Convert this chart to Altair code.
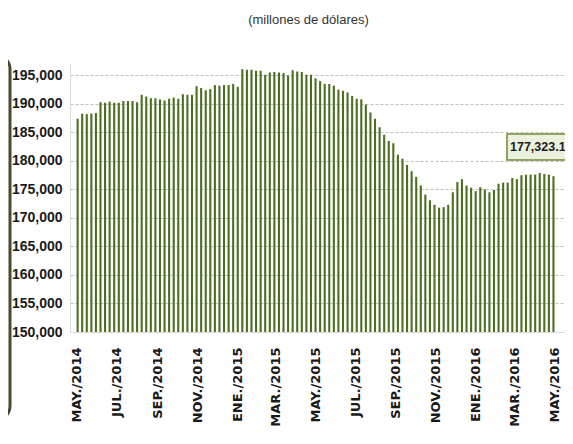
import altair as alt
import pandas as pd

# ---- data ----
week_dates = pd.date_range("2014-05-02", periods=105, freq="7D").strftime("%Y-%m-%d").tolist()
reserves = [
    187400, 188300, 188200, 188300, 188400, 190300, 190200, 190400, 190200, 190200,
    190500, 190500, 190500, 190300, 191600, 191300, 191000, 191000, 190800, 190600,
    190900, 191100, 190900, 191700, 191600, 191600, 193100, 192800, 192400, 192600,
    193300, 193200, 193300, 193300, 193500, 193000, 196100, 196000, 196000, 195800,
    195800, 195100, 195500, 195600, 195500, 195400, 195000, 195900, 195700, 195600,
    195100, 195100, 194500, 194000, 193500, 193500, 193200, 192500, 192300, 192000,
    191400, 190900, 190800, 189900, 188500, 187400, 185900, 184600, 183500, 183100,
    181100, 180400, 179300, 178200, 177200, 175700, 174100, 173100, 172300, 171800,
    171900, 172300, 174500, 176300, 176800, 175700, 175300, 174700, 175400, 175000,
    174500, 174900, 176000, 176200, 176200, 177000, 176800, 177500, 177600, 177600,
    177600, 177900, 177700, 177600, 177323.1,
]
tick_dates = ["2014-05-01", "2014-07-01", "2014-09-01", "2014-11-01", "2015-01-01",
              "2015-03-01", "2015-05-01", "2015-07-01", "2015-09-01", "2015-11-01",
              "2016-01-01", "2016-03-01", "2016-05-01"]
tick_labels = ["MAY./2014", "JUL./2014", "SEP./2014", "NOV./2014", "ENE./2015",
               "MAR./2015", "MAY./2015", "JUL./2015", "SEP./2015", "NOV./2015",
               "ENE./2016", "MAR./2016", "MAY./2016"]
y_ticks = [150000, 155000, 160000, 165000, 170000, 175000, 180000, 185000, 190000, 195000]
x_domain = ["2014-04-28", "2016-05-09"]
title_text = "(millones de dólares)"

def ms(d):
    return int(pd.Timestamp(d, tz="UTC").value // 10**6)

tick_ms = [ms(d) for d in tick_dates]
tick_keys = [d[:7] for d in tick_dates]
label_expr = ("[" + ",".join("'%s'" % t for t in tick_labels) + "][indexof([" +
              ",".join("'%s'" % k for k in tick_keys) +
              "], utcFormat(datum.value, '%Y-%m'))]")

df = pd.DataFrame({"fecha": week_dates, "valor": reserves})
last_df = pd.DataFrame({"valor": [reserves[-1]]})
one = pd.DataFrame({"k": [0]})

bars = alt.Chart(df).mark_bar(size=2.1, color="#4e6d20", clip=True).encode(
    x=alt.X("fecha:T",
            scale=alt.Scale(type="utc", domain=[ms(x_domain[0]), ms(x_domain[1])]),
            axis=alt.Axis(values=tick_ms, labelExpr=label_expr, labelAngle=270,
                          labelFont="DejaVu Sans", labelFontWeight="bold", labelFontSize=13,
                          labelColor="#1a1a1a", ticks=False, labelPadding=15, grid=False,
                          domainColor="#d9d9d9", title=None, labelFlush=False,
                          labelOverlap=False, labelBound=False)),
    y=alt.Y("valor:Q",
            scale=alt.Scale(domain=[150000, 197000], nice=False, zero=False),
            axis=alt.Axis(values=y_ticks, format=",d", labelFont="Liberation Sans",
                          labelFontWeight="bold", labelFontSize=14, labelColor="#1a1a1a",
                          ticks=False, labelPadding=8, domainColor="#d9d9d9",
                          gridColor="#bfbfbf", gridDash=[3, 2], title=None)),
    y2=alt.datum(150000),
)

box = alt.Chart(one).mark_rect(fill="#ebf1de", stroke="#6f8a36", strokeWidth=1.5).encode(
    x=alt.value(437), x2=alt.value(520), y=alt.value(70), y2=alt.value(96)
)
label = alt.Chart(last_df).mark_text(
    align="left", baseline="middle", font="Liberation Sans", fontWeight="bold",
    fontSize=12.5, color="#1a1a1a"
).encode(
    x=alt.value(440), y=alt.value(83), text=alt.Text("valor:Q", format=",.1f")
)
frame = alt.Chart(one).mark_rect(
    fillOpacity=0, stroke="#4a4a30", strokeWidth=3, cornerRadius=14
).encode(
    x=alt.value(-300), x2=alt.value(-60), y=alt.value(-9), y2=alt.value(356)
)

chart = alt.layer(frame, bars, box, label).properties(
    width=495, height=268,
    autosize=alt.AutoSizeParams(type="none"),
    padding={"left": 62, "right": 0, "top": 56, "bottom": 100},
    title=alt.TitleParams(title_text, font="Liberation Sans", fontSize=13,
                          fontWeight="normal", color="#333333", anchor="middle",
                          frame="group", offset=27, dx=-9),
).configure_view(stroke=None)

chart.save("out.html", embed_options={"renderer": "svg", "actions": False})
